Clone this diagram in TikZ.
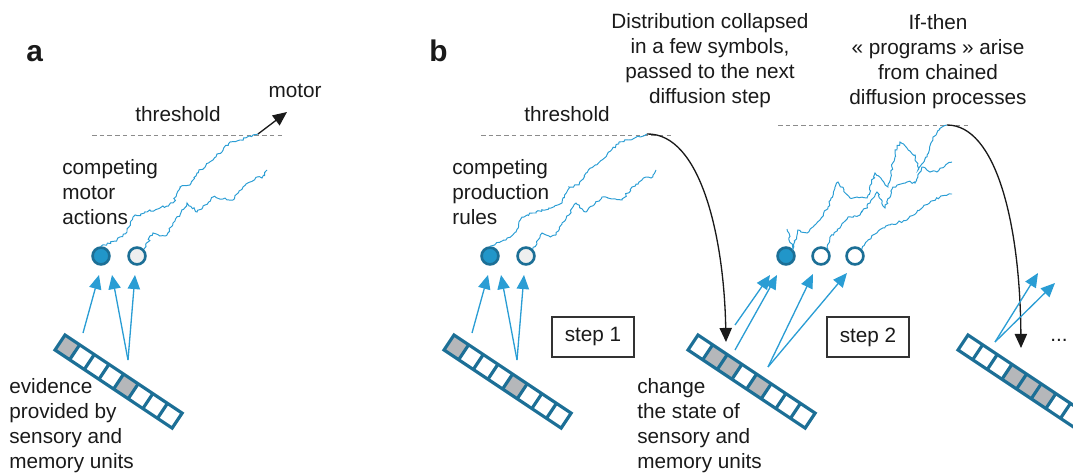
\documentclass[tikz,border=0pt]{standalone}
\usepackage{fontspec}
\setmainfont{Liberation Sans}
\usetikzlibrary{arrows.meta,decorations.pathmorphing,positioning}

\definecolor{walkblue}{HTML}{2A9DD4}
\definecolor{unitblue}{HTML}{1C6F96}
\definecolor{winblue}{HTML}{2196C9}
\definecolor{loserfill}{HTML}{EEEFEF}
\definecolor{cellgrey}{HTML}{B5B7BA}
\definecolor{dashgrey}{HTML}{8C8C8C}
\definecolor{inkblack}{HTML}{1A1A1A}

\tikzset{
  walk/.style={walkblue, line width=0.55pt, decorate,
    decoration={random steps, segment length=1.3pt, amplitude=0.7pt}},
  thresh/.style={dashgrey, line width=0.5pt, dash pattern=on 2.6pt off 1.8pt},
  unit/.style={circle, draw=unitblue, line width=1.5pt, minimum size=9.6pt, inner sep=0pt},
  winner/.style={unit, fill=winblue},
  barline/.style={unitblue, line width=1.8pt},
  evarrow/.style={walkblue, line width=0.75pt, -{Triangle[length=8pt,width=7pt]}},
  passarrow/.style={inkblack, line width=0.75pt, -{Triangle[length=8pt,width=7pt]}},
  txt/.style={inner sep=0pt, align=left},
  stepbox/.style={draw=black!80, line width=0.8pt, minimum width=46.5pt, minimum height=22.7pt, inner sep=0pt}
}

% row of sensory / memory cells: top corner, grey cells
\newcommand{\unitbar}[2]{%
  \begin{scope}[shift={#1}, rotate=-33.7]
    \foreach \c in {#2}
      \fill[cellgrey] ({(\c-1)*17.6},0) rectangle ++(17.6,18);
    \draw[barline] (0,0) rectangle (140.8,18);
    \foreach \k in {1,...,7}
      \draw[barline] ({\k*17.6},0) -- ++(0,18);
  \end{scope}}

\begin{document}
\begin{tikzpicture}[x=0.02cm, y=-0.02cm, font=\fontsize{11.8}{14.2}\selectfont, text=inkblack]
  \path[use as bounding box, clip] (0,0) rectangle (1073,473);

  % Panel letters
  \node[txt, anchor=base west, font=\fontsize{17}{20}\selectfont\bfseries] (pa) at (26,62) {a};
  \node[txt, anchor=base west, font=\fontsize{17}{20}\selectfont\bfseries] (pb) at (429,62) {b};

  % Panel a and step 1 (same race, shifted)
  \foreach \p/\dx in {a/0, b/389} {
    \begin{scope}[shift={(\dx,0)}]
      % Threshold
      \coordinate (thl\p) at (92,135);
      \coordinate (thr\p) at (285,135);
      \draw[thresh] (thl\p) -- (thr\p);
      \node[txt, anchor=base] (thtxt\p) at (178,122) {threshold};

      % Competing units
      \node[winner] (win\p) at (101,256) {};
      \node[unit, fill=loserfill] (lose\p) at (137,256) {};

      % Diffusion traces
      \coordinate (hit\p) at (258,134);
      \draw[walk] (win\p.north) -- (117,240) -- (127,232) -- (133,217) -- (147,212)
        -- (160,208) -- (173,203) -- (180,187) -- (190,185) -- (197,173) -- (213,160)
        -- (230,142) -- (240,140) -- (hit\p);
      \draw[walk] (lose\p.north east) -- (153,233) -- (160,236) -- (167,235) -- (173,223)
        -- (180,215) -- (187,203) -- (197,212) -- (205,205) -- (213,197) -- (223,199)
        -- (233,200) -- (243,187) -- (250,182) -- (257,177) -- (262,178) -- (267,170);

      % Sensory and memory units
      \unitbar{(65,335)}{1,5}
      \coordinate (ev\p1) at (83,333);
      \coordinate (ev\p2) at (128,360);
      \coordinate (in\p1) at (99,275);
      \coordinate (in\p2) at (112,275);
      \coordinate (in\p3) at (135,275);
      \draw[evarrow] (ev\p1) -- (in\p1);
      \draw[evarrow] (ev\p2) -- (in\p2);
      \draw[evarrow] (ev\p2) -- (in\p3);
    \end{scope}
  }

  % Panel a output
  \coordinate (motorend) at (287,112);
  \draw[passarrow] (hita) -- (motorend);
  \node[txt, anchor=base] (motor) at (295,98) {motor};
  \node[txt, anchor=west] (compa) at (62,192) {competing\\motor\\actions};
  \node[txt, anchor=west] (evtxt) at (9,426) {evidence\\provided by\\sensory and\\memory units};

  % Step 1 texts
  \node[txt, anchor=west] (compb) at (452,192) {competing\\production\\rules};
  \node[stepbox] (step1) at (593,337) {step 1};
  \node[txt, align=center] (collapse) at (710,61)
    {Distribution collapsed\\in a few symbols,\\passed to the next\\diffusion step};

  % Step 2
  \coordinate (thl2) at (778,125);
  \coordinate (thr2) at (968,125);
  \draw[thresh] (thl2) -- (thr2);
  \node[winner] (win2) at (786,256) {};
  \node[unit, fill=white] (lose2a) at (821,256) {};
  \node[unit, fill=white] (lose2b) at (855,256) {};
  \coordinate (hit2) at (947,125);
  \draw[walk] (787,229) -- (win2.north east) -- (798,230) -- (807,233) -- (813,227)
    -- (820,220) -- (828,207) -- (838,182) -- (844,190) -- (850,198) -- (857,197)
    -- (867,198) -- (875,173) -- (882,180) -- (888,187) -- (895,153) -- (900,142)
    -- (907,148) -- (915,155) -- (918,170) -- (927,157) -- (933,137) -- (942,127) -- (hit2);
  \draw[walk] (lose2a.north east) -- (830,237) -- (840,228) -- (848,217) -- (860,215)
    -- (870,203) -- (877,192) -- (885,208) -- (893,187) -- (907,182) -- (915,183)
    -- (923,167) -- (930,172) -- (937,172) -- (945,166) -- (952,162);
  \draw[walk] (lose2b.north east) -- (873,235) -- (890,225) -- (907,220) -- (923,207)
    -- (940,197) -- (952,194);

  % Collapse into the next state
  \coordinate (drop1) at (726,342);
  \draw[passarrow] (hitb) .. controls (700,133) and (724,235) .. (drop1);
  \unitbar{(698,335)}{2,3,5}
  \coordinate (ev21) at (735,325);
  \coordinate (ev22) at (735,350);
  \coordinate (ev23) at (768,367);
  \coordinate (in21) at (770,275);
  \coordinate (in22) at (777,275);
  \coordinate (in23) at (813,274);
  \coordinate (in24) at (847,273);
  \draw[evarrow] (ev21) -- (in21);
  \draw[evarrow] (ev22) -- (in22);
  \draw[evarrow] (ev23) -- (in23);
  \draw[evarrow] (ev23) -- (in24);
  \node[txt, anchor=west] (chtxt) at (637,426) {change\\the state of\\sensory and\\memory units};
  \node[stepbox] (step2) at (868,337) {step 2};
  \node[txt, align=center] (chain) at (938,62)
    {If-then\\« programs » arise\\from chained\\diffusion processes};

  % Step 3
  \coordinate (drop2) at (1021,348);
  \draw[passarrow] (hit2) .. controls (995,125) and (1020,220) .. (drop2);
  \unitbar{(968,335)}{4,5,6}
  \coordinate (ev31) at (995,342);
  \coordinate (in31) at (1038,273);
  \coordinate (in32) at (1055,283);
  \draw[evarrow] (ev31) -- (in31);
  \draw[evarrow] (ev31) -- (in32);
  \node[txt, anchor=base] (more) at (1059,341) {...};
\end{tikzpicture}
\end{document}
